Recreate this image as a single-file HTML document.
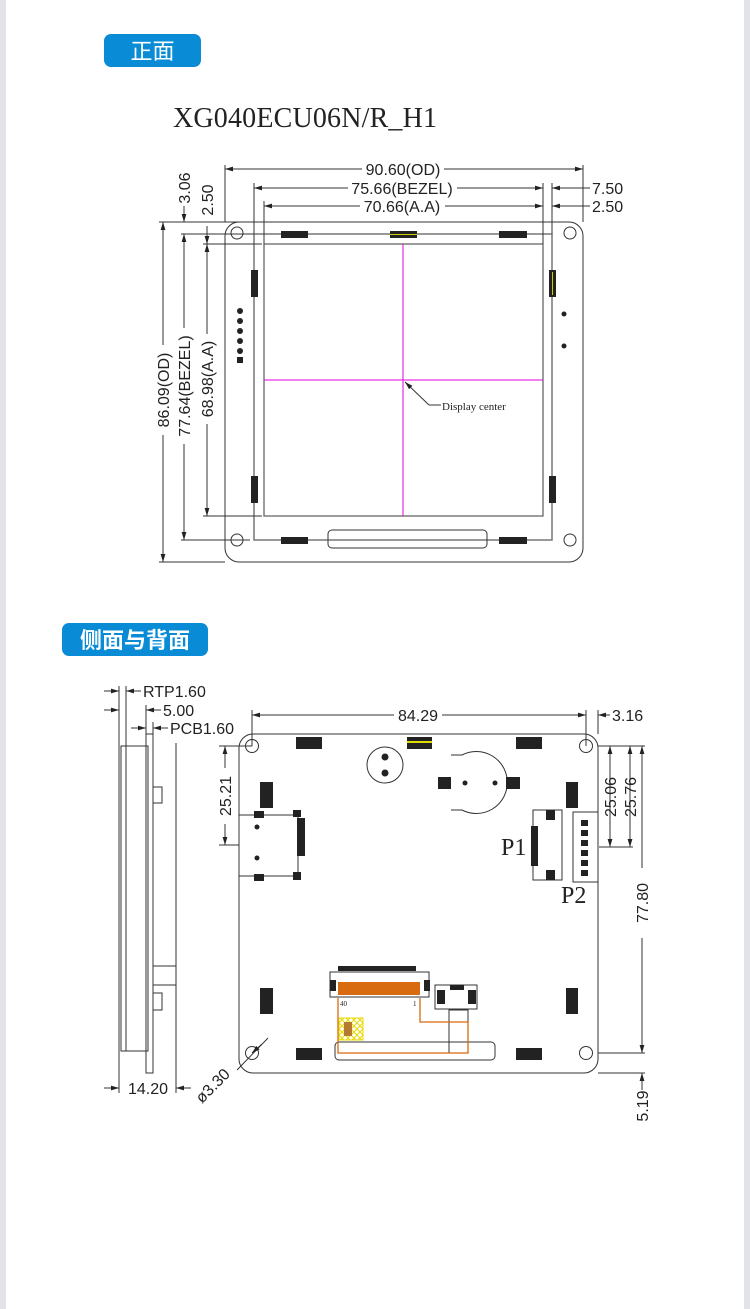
<!DOCTYPE html>
<html><head><meta charset="utf-8"><style>
html,body{margin:0;padding:0;background:#fff}
body{width:750px;height:1309px;position:relative;overflow:hidden;font-family:"Liberation Sans","Noto Sans CJK SC",sans-serif}
.strip{position:absolute;top:0;width:6px;height:1309px;background:#e2e3e8}
.badge{position:absolute;background:#0a8bd6;color:#fff;border-radius:7px;font-family:"Noto Sans CJK SC",sans-serif;text-align:center}
svg{position:absolute;left:0;top:0}
svg text{font-family:"Liberation Sans",sans-serif;fill:#222}
</style></head><body>
<div class="strip" style="left:0"></div><div class="strip" style="left:744px"></div>
<div class="badge" style="left:104px;top:34px;width:97px;height:33px;font-size:22px;line-height:33px">正面</div>
<div class="badge" style="left:62px;top:623px;width:146px;height:33px;font-size:22px;line-height:33px;font-weight:bold">侧面与背面</div>
<svg width="750" height="1309" viewBox="0 0 750 1309">
<defs>
<marker id="a" viewBox="0 0 10 6" refX="10" refY="3" markerWidth="8" markerHeight="5" orient="auto-start-reverse"><path d="M0,0L10,3L0,6z" fill="#222"/></marker>
<pattern id="hx" width="6" height="6" patternUnits="userSpaceOnUse"><path d="M0,0L6,6M6,0L0,6" stroke="#e8d800" stroke-width="1"/></pattern>
</defs>
<text x="173" y="127" textLength="264" style="font-family:'Liberation Serif',serif;font-size:28px">XG040ECU06N/R_H1</text>

<g stroke="#333" stroke-width="1" fill="none">
<rect x="225" y="222" width="358" height="340" rx="14"/>
<rect x="254" y="234" width="298" height="306" stroke="#777" stroke-width="1.5"/>
<rect x="264" y="244" width="279" height="272" stroke="#666" stroke-width="1.3"/>
<circle cx="237" cy="233" r="6"/><circle cx="570" cy="233" r="6"/>
<circle cx="237" cy="540" r="6"/><circle cx="570" cy="540" r="6"/>
<rect x="328" y="530" width="159" height="18" rx="4"/>
<line x1="403" y1="244" x2="403" y2="516" stroke="#e000e0"/>
<line x1="264" y1="380" x2="543" y2="380" stroke="#e000e0"/>
<path d="M429,405L441,405"/><line x1="429" y1="405" x2="405" y2="382" marker-end="url(#a)"/>
<line x1="225" y1="165" x2="225" y2="222"/><line x1="583" y1="165" x2="583" y2="222"/>
<line x1="254" y1="183" x2="254" y2="234"/><line x1="552" y1="183" x2="552" y2="234"/>
<line x1="264" y1="201" x2="264" y2="244"/><line x1="543" y1="183" x2="543" y2="244"/>
<line x1="225" y1="169" x2="362" y2="169" marker-start="url(#a)"/><line x1="444" y1="169" x2="583" y2="169" marker-end="url(#a)"/>
<line x1="254" y1="188" x2="348" y2="188" marker-start="url(#a)"/><line x1="457" y1="188" x2="543" y2="188" marker-end="url(#a)"/>
<line x1="575" y1="188" x2="552" y2="188" marker-end="url(#a)"/><line x1="575" y1="188" x2="590" y2="188"/>
<line x1="264" y1="206" x2="360" y2="206" marker-start="url(#a)"/><line x1="445" y1="206" x2="543" y2="206" marker-end="url(#a)"/>
<line x1="565" y1="206" x2="552" y2="206" marker-end="url(#a)"/><line x1="565" y1="206" x2="590" y2="206"/>
<line x1="159" y1="222" x2="240" y2="222"/><line x1="181" y1="234" x2="254" y2="234"/>
<line x1="203" y1="244" x2="262" y2="244"/><line x1="203" y1="516" x2="262" y2="516"/>
<line x1="181" y1="540" x2="250" y2="540"/><line x1="159" y1="562" x2="225" y2="562"/>
<line x1="163" y1="222" x2="163" y2="345" marker-start="url(#a)"/><line x1="163" y1="435" x2="163" y2="562" marker-end="url(#a)"/>
<line x1="184" y1="234" x2="184" y2="328" marker-start="url(#a)"/><line x1="184" y1="444" x2="184" y2="540" marker-end="url(#a)"/>
<line x1="207" y1="244" x2="207" y2="334" marker-start="url(#a)"/><line x1="207" y1="424" x2="207" y2="516" marker-end="url(#a)"/>
<line x1="184" y1="206" x2="184" y2="222" marker-end="url(#a)"/><line x1="207" y1="226" x2="207" y2="244" marker-end="url(#a)"/>
</g>
<g fill="#222">
<rect x="281" y="231" width="27" height="7"/><rect x="390" y="231" width="27" height="7"/><rect x="499" y="231" width="28" height="7"/>
<rect x="281" y="537" width="27" height="7"/><rect x="499" y="537" width="28" height="7"/>
<rect x="251" y="270" width="7" height="27"/><rect x="251" y="476" width="7" height="27"/>
<rect x="549" y="270" width="7" height="27"/><rect x="549" y="476" width="7" height="27"/>
<circle cx="240" cy="311" r="3"/><circle cx="240" cy="321" r="3"/><circle cx="240" cy="331" r="3"/><circle cx="240" cy="341" r="3"/><circle cx="240" cy="351" r="3"/><rect x="237" y="357" width="6" height="6"/>
<circle cx="564" cy="314" r="2.5"/><circle cx="564" cy="346" r="2.5"/>
</g>
<line x1="390" y1="234.5" x2="417" y2="234.5" stroke="#cc0" stroke-width="1"/>
<line x1="552.5" y1="272" x2="552.5" y2="295" stroke="#cc0" stroke-width="1"/>
<g font-size="16">
<text x="403" y="175" text-anchor="middle">90.60(OD)</text>
<text x="402" y="194" text-anchor="middle">75.66(BEZEL)</text>
<text x="402" y="212" text-anchor="middle">70.66(A.A)</text>
<text x="592" y="194">7.50</text><text x="592" y="212">2.50</text>
<text transform="translate(169,390) rotate(-90)" text-anchor="middle">86.09(OD)</text>
<text transform="translate(190,386) rotate(-90)" text-anchor="middle">77.64(BEZEL)</text>
<text transform="translate(213,379) rotate(-90)" text-anchor="middle">68.98(A.A)</text>
<text transform="translate(190,188) rotate(-90)" text-anchor="middle">3.06</text>
<text transform="translate(213,200) rotate(-90)" text-anchor="middle">2.50</text>
</g>
<text x="442" y="410" style="font-family:'Liberation Serif',serif;font-size:11px">Display center</text>

<g stroke="#333" stroke-width="1" fill="none">
<rect x="239" y="734" width="359" height="339" rx="14"/>
<circle cx="252" cy="746" r="6.5"/><circle cx="586" cy="746" r="6.5"/><circle cx="252" cy="1053" r="6.5"/><circle cx="586" cy="1053" r="6.5"/>
<circle cx="385" cy="765" r="18"/>
<path d="M451,755L462,755A31,31 0 1 1 462,810L451,810"/>
<rect x="239" y="815" width="59" height="61"/>
<rect x="533" y="810" width="29" height="70"/>
<rect x="573" y="812" width="25" height="70"/>
<rect x="330" y="972" width="99" height="25"/>
<rect x="435" y="985" width="42" height="24"/>
<rect x="335" y="1042" width="160" height="18" rx="4"/>
<rect x="449" y="1010" width="19" height="43"/>
<path d="M420,998L420,1022L468,1022L468,1053L338,1053L338,998" stroke="#d86a10" stroke-width="1.3"/>
<line x1="252" y1="710" x2="252" y2="746"/><line x1="586" y1="710" x2="586" y2="746"/><line x1="598" y1="710" x2="598" y2="734"/>
<line x1="252" y1="715" x2="394" y2="715" marker-start="url(#a)"/><line x1="442" y1="715" x2="586" y2="715" marker-end="url(#a)"/>
<line x1="610" y1="715" x2="598" y2="715" marker-end="url(#a)"/>
<line x1="598" y1="746" x2="645" y2="746"/><line x1="599" y1="847" x2="633" y2="847"/>
<line x1="598" y1="1053" x2="645" y2="1053"/><line x1="598" y1="1073" x2="645" y2="1073"/>
<line x1="610" y1="746" x2="610" y2="847" marker-start="url(#a)" marker-end="url(#a)"/>
<line x1="630" y1="746" x2="630" y2="847" marker-start="url(#a)" marker-end="url(#a)"/>
<line x1="642" y1="746" x2="642" y2="868" marker-start="url(#a)"/><line x1="642" y1="938" x2="642" y2="1053" marker-end="url(#a)"/>
<line x1="642" y1="1090" x2="642" y2="1073" marker-end="url(#a)"/>
<line x1="219" y1="746" x2="252" y2="746"/><line x1="219" y1="845" x2="239" y2="845"/>
<line x1="225" y1="746" x2="225" y2="768" marker-start="url(#a)"/><line x1="225" y1="824" x2="225" y2="845" marker-end="url(#a)"/>
<line x1="268" y1="1038" x2="237" y2="1070"/><line x1="262" y1="1044" x2="252" y2="1053" marker-end="url(#a)"/>
<rect x="121" y="746" width="27" height="305"/><line x1="126" y1="746" x2="126" y2="1051"/>
<rect x="146" y="734" width="7" height="339"/>
<line x1="176" y1="743" x2="176" y2="1060"/>
<rect x="153" y="966" width="23" height="19"/>
<rect x="153" y="787" width="9" height="16"/><rect x="153" y="993" width="9" height="17"/>
<line x1="119" y1="686" x2="119" y2="1093"/><line x1="126" y1="686" x2="126" y2="746"/>
<line x1="146" y1="705" x2="146" y2="734"/><line x1="153" y1="722" x2="153" y2="734"/><line x1="176" y1="1060" x2="176" y2="1093"/>
<line x1="104" y1="691" x2="119" y2="691" marker-end="url(#a)"/><line x1="141" y1="691" x2="126" y2="691" marker-end="url(#a)"/>
<line x1="104" y1="710" x2="119" y2="710" marker-end="url(#a)"/><line x1="161" y1="710" x2="146" y2="710" marker-end="url(#a)"/>
<line x1="131" y1="728" x2="146" y2="728" marker-end="url(#a)"/><line x1="168" y1="728" x2="153" y2="728" marker-end="url(#a)"/>
<line x1="104" y1="1088" x2="119" y2="1088" marker-end="url(#a)"/><line x1="191" y1="1088" x2="176" y2="1088" marker-end="url(#a)"/>
</g>
<g fill="#222">
<rect x="296" y="737" width="26" height="12"/><rect x="407" y="737" width="25" height="12"/><rect x="516" y="737" width="26" height="12"/>
<rect x="296" y="1048" width="26" height="12"/><rect x="516" y="1048" width="26" height="12"/>
<rect x="260" y="782" width="13" height="26"/><rect x="260" y="988" width="13" height="26"/>
<rect x="566" y="782" width="12" height="26"/><rect x="566" y="988" width="12" height="26"/>
<circle cx="385" cy="757" r="3.5"/><circle cx="385" cy="773" r="3.5"/>
<rect x="438" y="777" width="13" height="12"/><rect x="506" y="777" width="14" height="12"/>
<circle cx="465" cy="783" r="2.5"/><circle cx="495" cy="783" r="2.5"/>
<rect x="254" y="811" width="10" height="7"/><rect x="293" y="810" width="8" height="7"/><rect x="254" y="874" width="10" height="7"/><rect x="293" y="872" width="8" height="8"/>
<rect x="297" y="818" width="8" height="38"/>
<circle cx="257" cy="827" r="2.5"/><circle cx="257" cy="858" r="2.5"/>
<rect x="546" y="810" width="9" height="10"/><rect x="546" y="870" width="9" height="10"/>
<rect x="531" y="826" width="7" height="40"/>
<rect x="581" y="820" width="7" height="6"/><rect x="581" y="830" width="7" height="6"/><rect x="581" y="840" width="7" height="6"/><rect x="581" y="850" width="7" height="6"/><rect x="581" y="860" width="7" height="6"/><rect x="581" y="870" width="7" height="6"/>
<rect x="338" y="966" width="78" height="5"/>
<rect x="330" y="980" width="6" height="11"/><rect x="424" y="980" width="6" height="11"/>
<rect x="437" y="990" width="8" height="14"/><rect x="468" y="990" width="8" height="14"/><rect x="450" y="985" width="14" height="5"/>
</g>
<rect x="407" y="741" width="25" height="2" fill="#dd0"/>
<rect x="338" y="982" width="82" height="13" fill="#d86a10"/>
<rect x="339" y="1018" width="24" height="22" fill="url(#hx)" stroke="#e8d800"/>
<rect x="344" y="1022" width="8" height="14" fill="#b57a30"/>
<g font-size="16">
<text x="418" y="721" text-anchor="middle">84.29</text>
<text x="612" y="721">3.16</text>
<text transform="translate(616,797) rotate(-90)" text-anchor="middle">25.06</text>
<text transform="translate(636,797) rotate(-90)" text-anchor="middle">25.76</text>
<text transform="translate(648,903) rotate(-90)" text-anchor="middle">77.80</text>
<text transform="translate(648,1106) rotate(-90)" text-anchor="middle">5.19</text>
<text transform="translate(231,796) rotate(-90)" text-anchor="middle">25.21</text>
<text transform="translate(202,1104) rotate(-45)">ø3.30</text>
<text x="143" y="697">RTP1.60</text>
<text x="163" y="716">5.00</text>
<text x="170" y="734">PCB1.60</text>
<text x="148" y="1094" text-anchor="middle">14.20</text>
</g>
<text x="501" y="855" style="font-family:'Liberation Serif',serif;font-size:24px">P1</text>
<text x="561" y="903" style="font-family:'Liberation Serif',serif;font-size:24px">P2</text>
<text x="340" y="1006" style="font-family:'Liberation Serif',serif;font-size:7px">40</text>
<text x="413" y="1006" style="font-family:'Liberation Serif',serif;font-size:7px">1</text>
</svg>
</body></html>
